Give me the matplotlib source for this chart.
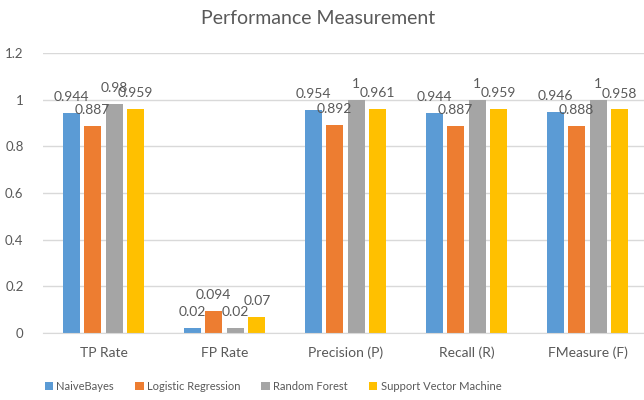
import matplotlib
matplotlib.use("Agg")
import matplotlib.pyplot as plt
import numpy as np
from matplotlib.patches import Patch

categories = ["TP Rate", "FP Rate", "Precision (P)", "Recall (R)", "FMeasure (F)"]
series_names = ["NaiveBayes", "Logistic Regression", "Random Forest", "Support Vector Machine"]
naive_bayes = [0.944, 0.02, 0.954, 0.944, 0.946]
logistic_regression = [0.887, 0.094, 0.892, 0.887, 0.888]
random_forest = [0.98, 0.02, 1, 1, 1]
svm = [0.959, 0.07, 0.961, 0.959, 0.958]
y_ticks = [0, 0.2, 0.4, 0.6, 0.8, 1, 1.2]
y_tick_labels = ["0", "0.2", "0.4", "0.6", "0.8", "1", "1.2"]

series = [naive_bayes, logistic_regression, random_forest, svm]
colors = ["#5B9BD5", "#ED7D31", "#A5A5A5", "#FFC000"]
text_color = "#595959"
plt.rcParams['font.family'] = ['Lato', 'DejaVu Sans']

fig = plt.figure(figsize=(6.44, 4.00), dpi=100)
ax = fig.add_axes([43/644, 67/400, 605/644, 280/400])

x = np.arange(len(categories))
step = 0.178
width = 0.14
for i, (vals, col) in enumerate(zip(series, colors)):
    xs = x + (i - 1.5) * step
    ax.bar(xs, vals, width=width, color=col, zorder=3)
    for xi, v in zip(xs, vals):
        ax.annotate(f"{v:g}", (xi, v), xytext=(0, 8.6), textcoords="offset points",
                    ha="center", va="baseline", fontsize=10, color=text_color, zorder=4)

ax.set_xlim(-0.5, 4.5)
ax.set_ylim(0, 1.2)
ax.set_yticks(y_ticks)
ax.set_yticklabels(y_tick_labels)
ax.set_xticks(x)
ax.set_xticklabels(categories)
ax.tick_params(axis='y', length=0, pad=14, labelsize=9.5, labelcolor=text_color)
ax.tick_params(axis='x', length=0, pad=10, labelsize=10, labelcolor=text_color)
ax.grid(axis='y', color="#D9D9D9", linewidth=1, zorder=0)
for s in ["top", "right", "left"]:
    ax.spines[s].set_visible(False)
ax.spines["bottom"].set_color("#D9D9D9")
ax.spines["bottom"].set_zorder(3)

fig.text(318/644, 1 - 18/400, "Performance Measurement", ha="center", va="center",
         fontsize=14, color=text_color)

handles = [Patch(facecolor=c, edgecolor='none') for c in colors]
fig.legend(handles, series_names, loc="center", bbox_to_anchor=(273/644, 1 - 386/400),
           ncol=4, frameon=False, fontsize=8, labelcolor=text_color,
           handlelength=0.75, handleheight=0.75, handletextpad=0.3, columnspacing=1.9)

fig.savefig("out.png", dpi=100)
